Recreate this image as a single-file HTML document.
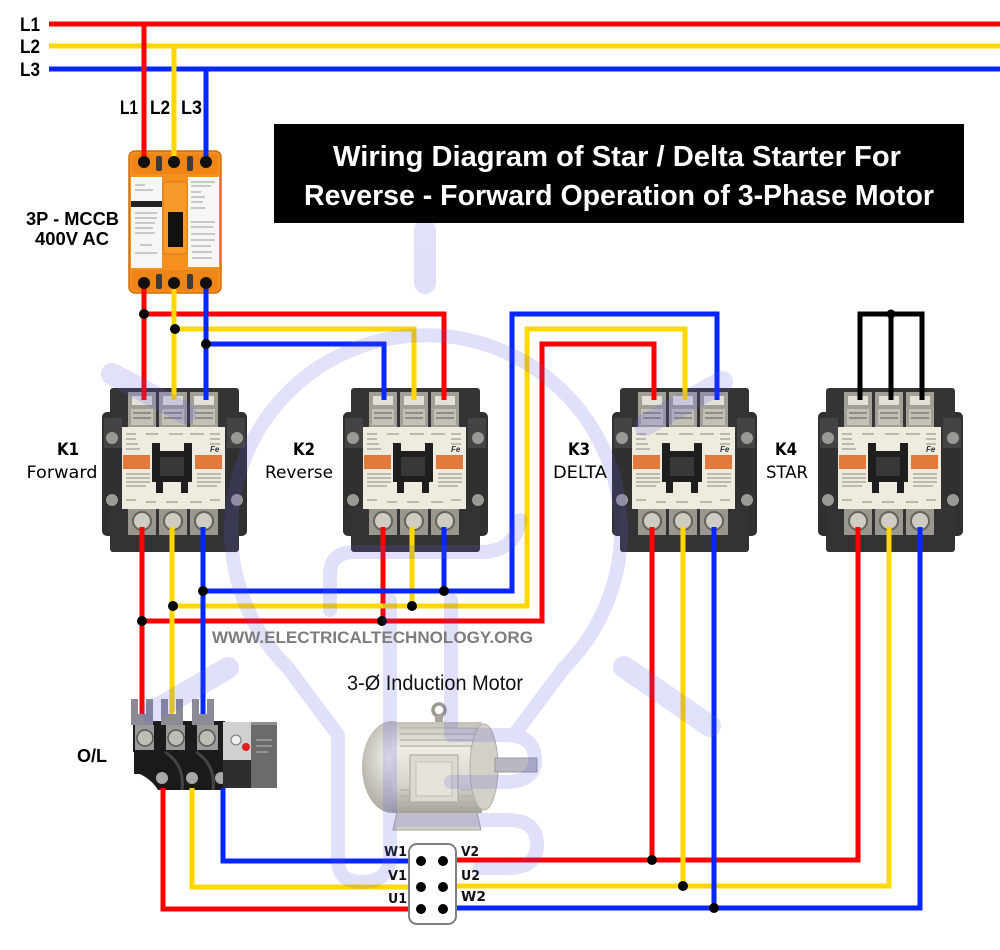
<!DOCTYPE html>
<html><head><meta charset="utf-8">
<style>
html,body{margin:0;padding:0;background:#fff;}
svg{display:block;}
</style></head>
<body>
<svg width="1000" height="950" viewBox="0 0 1000 950" xmlns="http://www.w3.org/2000/svg">
<defs>
<linearGradient id="mb" x1="0" y1="0" x2="0" y2="1">
 <stop offset="0" stop-color="#c4c2b8"/><stop offset="0.3" stop-color="#eeede6"/><stop offset="0.7" stop-color="#d6d4ca"/><stop offset="1" stop-color="#a3a198"/>
</linearGradient>
<radialGradient id="mf" cx="0.45" cy="0.4" r="0.7"><stop offset="0" stop-color="#f2f1ea"/><stop offset="1" stop-color="#a09e94"/></radialGradient>
<g id="ct">
 <rect x="0" y="24" width="145" height="124" rx="5" fill="#303030"/>
 <rect x="8" y="0" width="129" height="44" rx="3" fill="#343434"/>
 <rect x="26" y="4" width="28" height="38" fill="#a29f96"/>
 <rect x="57" y="4" width="28" height="38" fill="#a29f96"/>
 <rect x="88" y="4" width="28" height="38" fill="#a29f96"/>
 <rect x="30" y="8" width="20" height="9" fill="#e2e0d8"/>
 <rect x="61" y="8" width="20" height="9" fill="#e2e0d8"/>
 <rect x="92" y="8" width="20" height="9" fill="#e2e0d8"/>
 <rect x="29" y="21" width="22" height="16" fill="#c3c0b7"/>
 <rect x="60" y="21" width="22" height="16" fill="#c3c0b7"/>
 <rect x="91" y="21" width="22" height="16" fill="#c3c0b7"/>
 <g stroke="#6e6c66" stroke-width="1.2">
  <path d="M31,25 h18 M31,30 h18 M62,25 h18 M62,30 h18 M93,25 h18 M93,30 h18"/>
 </g>
 <rect x="2" y="30" width="18" height="30" fill="#444"/>
 <rect x="125" y="30" width="18" height="30" fill="#444"/>
 <circle cx="10" cy="50" r="6" fill="#9a9994"/>
 <circle cx="135" cy="50" r="6" fill="#9a9994"/>
 <circle cx="10" cy="112" r="6" fill="#9a9994"/>
 <circle cx="135" cy="112" r="6" fill="#9a9994"/>
 <rect x="8" y="118" width="129" height="46" rx="3" fill="#333"/>
 <rect x="26" y="121" width="28" height="26" fill="#9a978f"/>
 <rect x="57" y="121" width="28" height="26" fill="#9a978f"/>
 <rect x="88" y="121" width="28" height="26" fill="#9a978f"/>
 <circle cx="40" cy="133" r="9" fill="#cfccc3" stroke="#66645f" stroke-width="2"/>
 <circle cx="71" cy="133" r="9" fill="#cfccc3" stroke="#66645f" stroke-width="2"/>
 <circle cx="102" cy="133" r="9" fill="#cfccc3" stroke="#66645f" stroke-width="2"/>
 <rect x="20" y="39" width="103" height="82" fill="#f0ebdf"/>
 <g stroke="#8a8680" stroke-width="1">
  <path d="M24,46 h10 M44,46 h12 M67,46 h14 M88,46 h14 M108,46 h10"/>
  <path d="M24,51 h10 M24,56 h12 M24,61 h14 M108,51 h10 M108,56 h10"/>
  <path d="M24,86 h24 M24,90 h24 M24,94 h24 M24,98 h20 M95,86 h24 M95,90 h24 M95,94 h24 M95,98 h20"/>
  <path d="M24,112 h10 M44,114 h10 M64,114 h12 M88,114 h12 M108,112 h10"/>
 </g>
 <rect x="21" y="67" width="27" height="14" fill="#e2793a"/>
 <rect x="93" y="67" width="27" height="14" fill="#e2793a"/>
 <path d="M50,55 h8 v8 h24 v-8 h8 v39 h-4 v11 h-7 v-11 h-18 v11 h-7 v-11 h-4 z" fill="#1e1e1e"/>
 <rect x="58" y="69" width="24" height="19" fill="#383838"/>
 <text x="108" y="64" font-family="Liberation Sans, sans-serif" font-size="8" font-weight="bold" font-style="italic" fill="#333">Fe</text>
</g>
</defs>

<!-- Bus bars -->
<g fill="none" stroke-width="5">
 <path d="M49,24 H1000" stroke="#ff0000"/>
 <path d="M49,46 H1000" stroke="#ffd700"/>
 <path d="M49,69 H1000" stroke="#0526ff"/>
</g>
<g font-family="Liberation Sans, Arial, sans-serif" font-weight="bold" font-size="19" fill="#000">
 <text x="20" y="31" textLength="20" lengthAdjust="spacingAndGlyphs">L1</text>
 <text x="20" y="53" textLength="20" lengthAdjust="spacingAndGlyphs">L2</text>
 <text x="20" y="76" textLength="20" lengthAdjust="spacingAndGlyphs">L3</text>
 <text x="120" y="114" textLength="18" lengthAdjust="spacingAndGlyphs">L1</text>
 <text x="150" y="114" textLength="20" lengthAdjust="spacingAndGlyphs">L2</text>
 <text x="181" y="114" textLength="21" lengthAdjust="spacingAndGlyphs">L3</text>
 <text x="26" y="225" textLength="93" lengthAdjust="spacingAndGlyphs" font-size="18">3P - MCCB</text>
 <text x="35" y="245" textLength="74" lengthAdjust="spacingAndGlyphs" font-size="18">400V AC</text>
 <text x="77" y="762" textLength="30" lengthAdjust="spacingAndGlyphs" font-size="18">O/L</text>
</g>

<!-- Contactors -->
<use href="#ct" x="102" y="388"/>
<use href="#ct" x="343" y="388"/>
<use href="#ct" x="612" y="388"/>
<use href="#ct" x="818" y="388"/>

<!-- MCCB -->
<g>
 <rect x="129" y="151" width="92" height="142" rx="6" fill="#f5901f" stroke="#d26d0a" stroke-width="1.5"/>
 <rect x="132" y="154" width="86" height="20" rx="3" fill="#ee8516"/>
 <rect x="156" y="156" width="6" height="15" rx="2" fill="#3a3a3a"/>
 <rect x="187" y="156" width="6" height="15" rx="2" fill="#3a3a3a"/>
 <rect x="131" y="177" width="31" height="91" fill="#f6f6f4"/>
 <rect x="188" y="177" width="31" height="90" fill="#f6f6f4"/>
 <rect x="131" y="201" width="31" height="6" fill="#222"/>
 <g stroke="#999" stroke-width="1">
  <path d="M135,185 h10 M135,190 h18 M135,213 h22 M135,218 h22 M135,223 h20 M135,228 h18 M135,233 h20 M140,245 h12 M135,253 h22"/>
  <path d="M191,182 h24 M191,186 h20 M191,192 h10 M191,197 h14 M191,202 h12 M191,208 h14 M191,222 h24 M191,227 h22 M191,234 h24 M191,240 h24 M191,246 h20 M192,252 h20 M192,258 h20"/>
 </g>
 <rect x="163" y="182" width="24" height="72" rx="3" fill="#f79a2e" stroke="#e07b10"/>
 <rect x="168" y="212" width="15" height="35" fill="#111"/>
 <rect x="132" y="270" width="86" height="21" rx="3" fill="#ee8516"/>
 <rect x="156" y="274" width="6" height="15" rx="2" fill="#3a3a3a"/>
 <rect x="187" y="274" width="6" height="15" rx="2" fill="#3a3a3a"/>
</g>

<!-- O/L relay -->
<g>
 <rect x="133" y="721" width="92" height="31" fill="#1c1c1c"/>
 <rect x="135" y="725" width="19" height="26" fill="#9a9a9a"/>
 <rect x="166" y="725" width="19" height="26" fill="#9a9a9a"/>
 <rect x="197" y="725" width="21" height="26" fill="#9a9a9a"/>
 <circle cx="145" cy="738" r="8" fill="#bdbdb5" stroke="#555" stroke-width="1.5"/>
 <circle cx="176" cy="738" r="8" fill="#bdbdb5" stroke="#555" stroke-width="1.5"/>
 <circle cx="207" cy="738" r="8" fill="#bdbdb5" stroke="#555" stroke-width="1.5"/>
 <path d="M134,750 H225 V790 H158 Q152,780 140,774 H134 Z" fill="#1a1a1a"/>
 <path d="M165,752 Q185,765 182,790" stroke="#444" stroke-width="3" fill="none"/>
 <path d="M196,752 Q216,765 213,790" stroke="#444" stroke-width="3" fill="none"/>
 <circle cx="162" cy="778" r="6" fill="#a8a8a8"/>
 <circle cx="192" cy="778" r="6" fill="#a8a8a8"/>
 <circle cx="221" cy="778" r="6" fill="#a8a8a8"/>
 <rect x="223" y="722" width="54" height="66" fill="#8f8f8f"/>
 <rect x="223" y="722" width="28" height="38" fill="#d0d0d0"/>
 <rect x="251" y="725" width="26" height="63" fill="#6b6b6b"/>
 <path d="M256,740 h16 M256,746 h16 M256,752 h12" stroke="#bbb" stroke-width="1"/>
 <rect x="223" y="760" width="28" height="28" fill="#2e2e2e"/>
 <circle cx="236" cy="740" r="5" fill="#eee" stroke="#777"/>
 <circle cx="246" cy="747" r="4" fill="#e02020"/>
</g>

<!-- Motor -->
<g>
 <path d="M398,808 H476 L481,830 H393 Z" fill="#d4d2c8" stroke="#a8a69c"/>
 <circle cx="439" cy="710" r="6" fill="none" stroke="#9a988f" stroke-width="3.5"/>
 <rect x="435" y="715" width="8" height="9" fill="#a8a69c"/>
 <ellipse cx="392" cy="767" rx="30" ry="46" fill="url(#mf)"/>
 <rect x="392" y="722" width="90" height="91" fill="url(#mb)"/>
 <g stroke="#b3b1a7" stroke-width="1.2">
  <path d="M400,728 H480 M400,734 H480 M400,740 H480 M400,746 H480 M400,790 H410 M400,796 H410 M400,802 H410 M460,790 H480 M460,796 H480 M460,802 H480"/>
 </g>
 <ellipse cx="484" cy="767" rx="14" ry="43" fill="#d3d1c7" stroke="#b0aea4"/>
 <rect x="410" y="755" width="48" height="47" fill="#dddbd1" stroke="#a8a69c"/>
 <rect x="416" y="762" width="36" height="34" fill="#e6e4da" stroke="#c2c0b6"/>
 <rect x="495" y="758" width="42" height="14" fill="#b8b8c0" stroke="#9a9aa2"/>
</g>

<!-- Wires -->
<g fill="none" stroke-width="5" stroke-linejoin="miter">
 <g stroke="#ff0000">
  <path d="M144,24 V162"/>
  <path d="M144,283 V400"/>
  <path d="M144,314 H444 V400"/>
  <path d="M142,527 V715"/>
  <path d="M142,621 H542 V344 H654 V400"/>
  <path d="M383,527 V621"/>
  <path d="M163,788 V909 H421"/>
  <path d="M443,860 H858 V527"/>
  <path d="M652,527 V860"/>
 </g>
 <g stroke="#ffd700">
  <path d="M174,46 V162"/>
  <path d="M174,283 V400"/>
  <path d="M174,329 H414 V400"/>
  <path d="M172,527 V715"/>
  <path d="M172,606 H527 V329 H685 V400"/>
  <path d="M412,527 V606"/>
  <path d="M192,788 V887 H421"/>
  <path d="M443,886 H889 V527"/>
  <path d="M683,527 V886"/>
 </g>
 <g stroke="#0526ff">
  <path d="M206,69 V162"/>
  <path d="M206,283 V400"/>
  <path d="M206,344 H384 V400"/>
  <path d="M203,527 V715"/>
  <path d="M203,591 H512 V314 H717 V400"/>
  <path d="M444,527 V591"/>
  <path d="M223,788 V861 H421"/>
  <path d="M443,908 H920 V527"/>
  <path d="M714,527 V908"/>
 </g>
 <g stroke="#000">
  <path d="M860,400 V314 H922 V400"/>
  <path d="M891,314 V400"/>
 </g>
</g>

<!-- MCCB terminals over wires -->
<g fill="#111">
 <circle cx="144" cy="162" r="6"/><circle cx="174" cy="162" r="6"/><circle cx="206" cy="162" r="6"/>
 <circle cx="144" cy="283" r="6"/><circle cx="174" cy="283" r="6"/><circle cx="206" cy="283" r="6"/>
</g>

<!-- O/L forks -->
<g fill="#8b8b95">
 <path d="M131,699 h7 v15 h8 v-15 h7 v26 h-22 z"/>
 <path d="M161,699 h7 v15 h8 v-15 h7 v26 h-22 z"/>
 <path d="M192,699 h7 v15 h8 v-15 h7 v26 h-22 z"/>
</g>

<!-- Junction dots -->
<g fill="#000">
 <circle cx="144" cy="314" r="5"/><circle cx="175" cy="329" r="5"/><circle cx="206" cy="344" r="5"/>
 <circle cx="203" cy="591" r="5"/><circle cx="444" cy="591" r="5"/>
 <circle cx="173" cy="606" r="5"/><circle cx="412" cy="606" r="5"/>
 <circle cx="142" cy="621" r="5"/><circle cx="382" cy="621" r="5"/>
 <circle cx="652" cy="860" r="5"/><circle cx="683" cy="886" r="5"/><circle cx="714" cy="908" r="5"/>
 <circle cx="891" cy="314" r="4.5"/>
</g>

<!-- Terminal box -->
<rect x="409" y="844" width="47" height="80" rx="8" fill="#fff" stroke="#808080" stroke-width="2"/>
<g fill="#000">
 <circle cx="421" cy="861" r="5"/><circle cx="443" cy="861" r="5"/>
 <circle cx="421" cy="887" r="5"/><circle cx="443" cy="887" r="5"/>
 <circle cx="421" cy="909" r="5"/><circle cx="443" cy="909" r="5"/>
</g>
<g font-family="DejaVu Sans, Liberation Sans, sans-serif" font-weight="bold" font-size="13" fill="#111">
 <text x="384" y="856" textLength="23" lengthAdjust="spacingAndGlyphs">W1</text>
 <text x="388" y="880" textLength="19" lengthAdjust="spacingAndGlyphs">V1</text>
 <text x="388" y="903" textLength="19" lengthAdjust="spacingAndGlyphs">U1</text>
 <text x="461" y="856" textLength="18" lengthAdjust="spacingAndGlyphs">V2</text>
 <text x="461" y="880" textLength="19" lengthAdjust="spacingAndGlyphs">U2</text>
 <text x="461" y="901" textLength="25" lengthAdjust="spacingAndGlyphs">W2</text>
</g>

<!-- Watermark -->
<g opacity="0.18" fill="none" stroke="#5a5ae6" stroke-linecap="round" stroke-linejoin="round">
 <path d="M425,230 V283" stroke-width="22"/>
 <path d="M288,668 A195,195 0 1 1 564,668" stroke-width="14"/>
 <path d="M288,668 L338,735 V860 Q338,882 362,882 Q388,882 390,858 V600" stroke-width="14"/>
 <path d="M564,668 L514,735" stroke-width="14"/>
 <path d="M330,610 V575 Q330,552 355,552 H480 Q515,552 520,520" stroke-width="14"/>
 <path d="M451,600 V735 H505 Q535,735 535,760 Q535,782 505,782 H451" stroke-width="14"/>
 <path d="M390,820 H508 Q537,820 537,845 Q537,868 508,868 H480" stroke-width="14"/>
 <path d="M112,374 L185,413" stroke-width="22"/>
 <path d="M645,425 L722,382" stroke-width="22"/>
 <path d="M152,712 L228,668" stroke-width="22"/>
 <path d="M624,667 L710,726" stroke-width="22"/>
</g>

<!-- Title -->
<rect x="274" y="124" width="690" height="99" fill="#000"/>
<g font-family="Liberation Sans, Arial, sans-serif" font-weight="bold" font-size="29" fill="#fff" text-anchor="middle">
 <text x="617" y="166" textLength="568" lengthAdjust="spacingAndGlyphs">Wiring Diagram of Star / Delta Starter For</text>
 <text x="619" y="205" textLength="630" lengthAdjust="spacingAndGlyphs">Reverse - Forward Operation of 3-Phase Motor</text>
</g>

<!-- Contactor labels -->
<g font-family="DejaVu Sans, Liberation Sans, sans-serif" font-size="17" fill="#000" text-anchor="middle">
 <text x="68" y="455" font-weight="bold" textLength="22" lengthAdjust="spacingAndGlyphs">K1</text>
 <text x="62" y="478" textLength="71" lengthAdjust="spacingAndGlyphs">Forward</text>
 <text x="304" y="455" font-weight="bold" textLength="22" lengthAdjust="spacingAndGlyphs">K2</text>
 <text x="299" y="478" textLength="68" lengthAdjust="spacingAndGlyphs">Reverse</text>
 <text x="579" y="455" font-weight="bold" textLength="22" lengthAdjust="spacingAndGlyphs">K3</text>
 <text x="580" y="478" textLength="54" lengthAdjust="spacingAndGlyphs">DELTA</text>
 <text x="786" y="455" font-weight="bold" textLength="22" lengthAdjust="spacingAndGlyphs">K4</text>
 <text x="787" y="478" textLength="42" lengthAdjust="spacingAndGlyphs">STAR</text>
</g>

<text x="212" y="643" font-family="Liberation Sans, Arial, sans-serif" font-weight="bold" font-size="17" fill="#7d7d7d" textLength="321" lengthAdjust="spacingAndGlyphs">WWW.ELECTRICALTECHNOLOGY.ORG</text>
<text x="347" y="690" font-family="Liberation Sans, Arial, sans-serif" font-size="21" fill="#111" textLength="176" lengthAdjust="spacingAndGlyphs">3-Ø Induction Motor</text>
</svg>
</body></html>
